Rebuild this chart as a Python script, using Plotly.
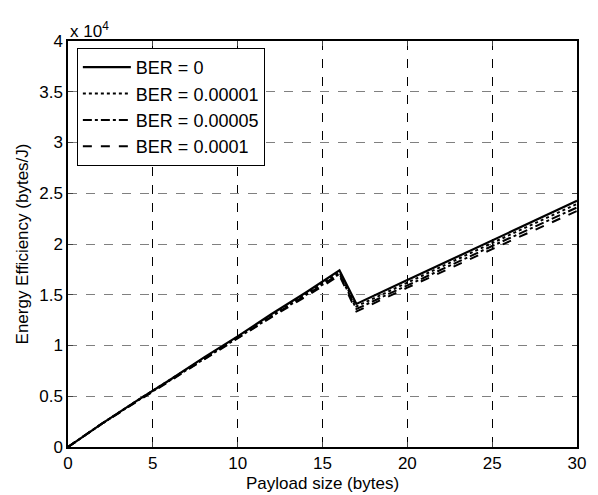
import plotly.graph_objects as go

payload = [0, 2, 4, 6, 8, 10, 12, 14, 16, 17, 20, 25, 30]
ber_0 = [0, 2300, 4500, 6600, 8800, 10900, 13100, 15200, 17400, 14100, 16450, 20350, 24250]
ber_00001 = [0, 2300, 4500, 6600, 8750, 10850, 13000, 15100, 17200, 13850, 16200, 20100, 23950]
ber_00005 = [0, 2300, 4450, 6550, 8700, 10800, 12900, 15000, 17050, 13600, 15950, 19800, 23600]
ber_0001 = [0, 2300, 4400, 6500, 8600, 10700, 12800, 14800, 16900, 13350, 15700, 19500, 23250]

series_names = ["BER = 0", "BER = 0.00001", "BER = 0.00005", "BER = 0.0001"]
x_ticks = [0, 5, 10, 15, 20, 25, 30]
y_tick_vals = [0, 5000, 10000, 15000, 20000, 25000, 30000, 35000, 40000]
y_tick_text = ["0", "0.5", "1", "1.5", "2", "2.5", "3", "3.5", "4"]
x_title = "Payload size (bytes)"
y_title = "Energy Efficiency (bytes/J)"

dashes = ["solid", "dot", "dashdot", "dash"]
widths = [2.2, 2.0, 2.0, 2.0]

fig = go.Figure()
for name, ys, d, w in zip(series_names, [ber_0, ber_00001, ber_00005, ber_0001], dashes, widths):
    fig.add_trace(go.Scatter(x=payload, y=ys, mode="lines", name=name,
                             line=dict(color="black", dash=d, width=w)))

fam = "Liberation Sans, Arial, sans-serif"
font = dict(family=fam, size=17, color="black")
# the page body has an 8px margin, so the figure is 8px smaller each way
fig.update_layout(
    width=590, height=487,
    margin=dict(l=60, r=13, t=33, b=48),
    paper_bgcolor="white", plot_bgcolor="white",
    font=font,
    showlegend=True,
    legend=dict(x=0.0174, y=0.983, xanchor="left", yanchor="top",
                bgcolor="white", bordercolor="black", borderwidth=1,
                font=dict(family=fam, size=18, color="black"),
                tracegroupgap=0, itemwidth=48),
)
fig.update_xaxes(range=[0, 30], tickvals=x_ticks, ticks="inside", ticklen=5,
                 showline=True, linecolor="black", linewidth=1.5, mirror="ticks",
                 showgrid=True, gridcolor="black", griddash="dash", gridwidth=1,
                 zeroline=False, tickfont=font)
fig.update_yaxes(range=[0, 40000], tickvals=y_tick_vals, ticktext=y_tick_text,
                 ticks="inside", ticklen=5,
                 showline=True, linecolor="black", linewidth=1.5, mirror="ticks",
                 showgrid=True, gridcolor="#808080", griddash="dash", gridwidth=1,
                 zeroline=False,
                 title=dict(text=y_title, standoff=6, font=dict(family=fam, size=17)),
                 tickfont=font)
fig.add_annotation(text=x_title, xref="paper", yref="paper",
                   x=0.5, y=0, xanchor="center", yanchor="middle", yshift=-36,
                   showarrow=False, font=dict(family=fam, size=17, color="black"))
fig.add_annotation(text="x 10<sup>4</sup>", xref="paper", yref="paper",
                   x=0.0, y=1.0, xanchor="left", yanchor="bottom",
                   showarrow=False, font=font, yshift=-2)
fig.write_html("out.html")
